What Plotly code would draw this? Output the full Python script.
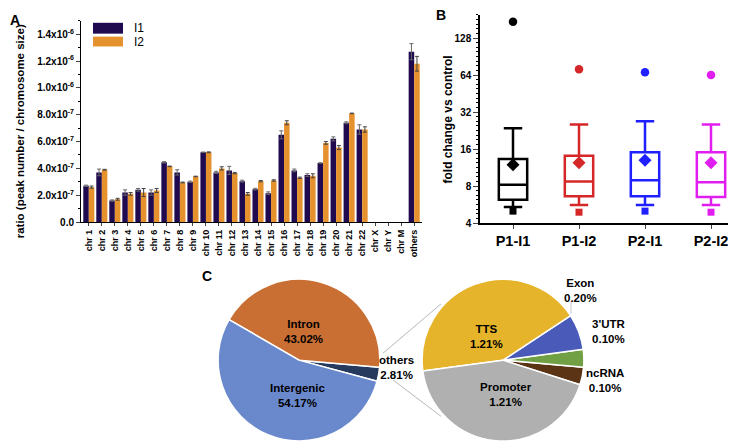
import plotly.graph_objects as go
import numpy as np

# ---------------- Data ----------------
chrom_labels = ["chr 1", "chr 2", "chr 3", "chr 4", "chr 5", "chr 6", "chr 7", "chr 8", "chr 9",
                "chr 10", "chr 11", "chr 12", "chr 13", "chr 14", "chr 15", "chr 16", "chr 17",
                "chr 18", "chr 19", "chr 20", "chr 21", "chr 22", "chr X", "chr Y", "chr M", "others"]
i1_ratio = [2.7e-7, 3.7e-7, 1.6e-7, 2.2e-7, 2.4e-7, 2.2e-7, 4.45e-7, 3.7e-7, 3.0e-7,
            5.2e-7, 3.7e-7, 3.85e-7, 3.05e-7, 2.45e-7, 2.15e-7, 6.5e-7, 3.85e-7,
            3.5e-7, 4.4e-7, 6.2e-7, 7.4e-7, 6.9e-7, 0, 0, 0, 1.27e-6]
i2_ratio = [2.6e-7, 3.9e-7, 1.7e-7, 2.1e-7, 2.2e-7, 2.35e-7, 4.15e-7, 2.95e-7, 3.4e-7,
            5.2e-7, 4.0e-7, 3.65e-7, 2.1e-7, 3.05e-7, 3.1e-7, 7.4e-7, 3.3e-7,
            3.45e-7, 5.9e-7, 5.55e-7, 8.1e-7, 6.9e-7, 0, 0, 0, 1.18e-6]
i1_err = [0.05e-7, 0.25e-7, 0.05e-7, 0.2e-7, 0.1e-7, 0.2e-7, 0.05e-7, 0.2e-7, 0.05e-7,
          0.02e-7, 0.08e-7, 0.3e-7, 0.07e-7, 0.06e-7, 0.1e-7, 0.3e-7, 0.1e-7,
          0.1e-7, 0.02e-7, 0.15e-7, 0.07e-7, 0.35e-7, "NaN", "NaN", "NaN", 0.6e-7]
i2_err = [0.08e-7, 0.03e-7, 0.07e-7, 0.1e-7, 0.3e-7, 0.15e-7, 0.02e-7, 0.03e-7, 0.02e-7,
          0.03e-7, 0.12e-7, 0.05e-7, 0.1e-7, 0.05e-7, 0.05e-7, 0.15e-7, 0.05e-7,
          0.15e-7, 0.1e-7, 0.15e-7, 0.02e-7, 0.2e-7, "NaN", "NaN", "NaN", 0.55e-7]
ratio_ticks = [0, 2e-7, 4e-7, 6e-7, 8e-7, 1e-6, 1.2e-6, 1.4e-6]
ratio_ticktext = ["0.0", "2.0x10<sup>-7</sup>", "4.0x10<sup>-7</sup>", "6.0x10<sup>-7</sup>",
                  "8.0x10<sup>-7</sup>", "1.0x10<sup>-6</sup>", "1.2x10<sup>-6</sup>", "1.4x10<sup>-6</sup>"]

groups = ["P1-I1", "P1-I2", "P2-I1", "P2-I2"]
group_colors = ["#000000", "#d62728", "#1f1fff", "#e11ef0"]
q1 = [6.2, 6.6, 6.6, 6.5]
median = [8.2, 8.7, 8.9, 8.6]
q3 = [13.3, 14.1, 15.1, 15.1]
lower_whisker = [5.4, 5.6, 5.6, 5.6]
upper_whisker = [23.6, 25.4, 26.9, 25.4]
mean_val = [11.9, 12.4, 13.0, 12.4]
max_val = [174, 71.5, 67.6, 64]
min_val = [5.0, 4.9, 5.0, 4.9]
fold_ticks = [4, 8, 16, 32, 64, 128]

main_labels = ["others", "Intron", "Intergenic"]
main_values = [2.81, 43.02, 54.17]
main_colors = ["#263a5e", "#c96f33", "#6a89cc"]
sub_labels = ["ncRNA", "3'UTR", "Exon", "TTS", "Promoter"]
sub_values = [0.10, 0.10, 0.20, 1.21, 1.21]
sub_colors = ["#5a3414", "#70a043", "#4a5ab8", "#e6b42a", "#b0b0b0"]

W, H = 736, 441
FONT = "Arial, Liberation Sans, sans-serif"

def px(x):
    return x / W

def py(y):
    return 1 - y / H

fig = go.Figure()

# ---------------- Panel A ----------------
fig.add_trace(go.Bar(x=chrom_labels, y=i1_ratio, name="I1", marker_color="#1f0a4f",
                     marker_line_width=0,
                     error_y=dict(type="data", array=i1_err, color="#666666", thickness=1, width=2),
                     xaxis="x", yaxis="y", showlegend=False))
fig.add_trace(go.Bar(x=chrom_labels, y=i2_ratio, name="I2", marker_color="#e5922e",
                     marker_line_width=0,
                     error_y=dict(type="data", array=i2_err, color="#444444", thickness=1, width=2),
                     xaxis="x", yaxis="y", showlegend=False))

# ---------------- Panel B ----------------
for i, g in enumerate(groups):
    c = group_colors[i]
    fig.add_trace(go.Box(x=[g], q1=[q1[i]], median=[median[i]], q3=[q3[i]],
                         lowerfence=[lower_whisker[i]], upperfence=[upper_whisker[i]],
                         boxpoints=False, fillcolor="rgba(255,255,255,0)",
                         line=dict(color=c, width=2.5), whiskerwidth=0.65, width=0.43,
                         xaxis="x2", yaxis="y2", showlegend=False, name=g))
    fig.add_trace(go.Scatter(x=[g], y=[mean_val[i]], mode="markers",
                             marker=dict(symbol="diamond", size=10, color=c),
                             xaxis="x2", yaxis="y2", showlegend=False))
    fig.add_trace(go.Scatter(x=[g], y=[max_val[i]], mode="markers",
                             marker=dict(symbol="circle", size=8.5, color=c),
                             xaxis="x2", yaxis="y2", showlegend=False))
    fig.add_trace(go.Scatter(x=[g], y=[min_val[i]], mode="markers",
                             marker=dict(symbol="square", size=7, color=c),
                             xaxis="x2", yaxis="y2", showlegend=False))

# ---------------- Panel C ----------------
fig.add_trace(go.Pie(labels=main_labels, values=main_values, sort=False,
                     direction="counterclockwise", rotation=95,
                     marker=dict(colors=main_colors, line=dict(color="white", width=1.5)),
                     textinfo="none", showlegend=False,
                     domain=dict(x=[px(209), px(373)], y=[py(439), py(275)])))
fig.add_trace(go.Pie(labels=sub_labels, values=sub_values, sort=False,
                     direction="counterclockwise", rotation=95,
                     marker=dict(colors=sub_colors, line=dict(color="white", width=1.5)),
                     textinfo="none", showlegend=False,
                     domain=dict(x=[px(413), px(577)], y=[py(439), py(275)])))

minor_b = [4 * 2 ** (k / 8) for k in range(0, 46)]

fig.update_layout(
    width=W, height=H, margin=dict(l=0, r=0, t=0, b=0),
    paper_bgcolor="white", plot_bgcolor="white",
    font=dict(family=FONT, color="black"),
    barmode="group", bargap=0.15, bargroupgap=0,
    xaxis=dict(domain=[px(73), px(414)], range=[-0.6, 25.6], type="category",
               showline=True, linecolor="black", linewidth=1, ticks="outside", ticklen=3,
               tickangle=-90, tickfont=dict(size=9, weight="bold"), showgrid=False,
               anchor="y"),
    yaxis=dict(domain=[py(217), py(13)], range=[0, 1.5e-6], tickvals=ratio_ticks,
               ticktext=ratio_ticktext, showline=True, linecolor="black", linewidth=1,
               ticks="outside", ticklen=4, tickfont=dict(size=10, weight="bold"),
               showgrid=False, zeroline=False, anchor="x",
               minor=dict(tickvals=[1e-7, 3e-7, 5e-7, 7e-7, 9e-7, 1.1e-6, 1.3e-6, 1.5e-6],
                          ticks="outside", ticklen=2, tickcolor="black")),
    xaxis2=dict(domain=[px(472), 1.0], range=[-0.5, 3.5], type="category",
                showline=True, linecolor="black", linewidth=1.5, ticks="outside", ticklen=4,
                tickfont=dict(size=14.5, weight="bold"), showgrid=False, anchor="y2"),
    yaxis2=dict(domain=[py(218), py(7)], type="log", range=[np.log10(4), 2.296],
                tickvals=fold_ticks, ticktext=[str(t) for t in fold_ticks],
                showline=True, linecolor="black", linewidth=1.5, ticks="outside", ticklen=5,
                tickfont=dict(size=10, weight="bold"), showgrid=False, zeroline=False,
                anchor="x2",
                minor=dict(tickvals=minor_b, ticks="outside", ticklen=2, tickcolor="black")),
)

ann = []
def add_text(x, y, text, size=11.5, bold=True, angle=0, xanchor="center"):
    ann.append(dict(x=px(x), y=py(y), xref="paper", yref="paper", text=text, showarrow=False,
                    textangle=angle, xanchor=xanchor, yanchor="middle",
                    font=dict(size=size, weight="bold" if bold else "normal", family=FONT)))

add_text(7, 12, "A", size=14)
add_text(433, 7, "B", size=14)
add_text(199, 272, "C", size=14)
add_text(12, 125, "ratio (peak number / chromosome size)", size=11.5, angle=-90)
add_text(440, 113, "fold change vs control", size=12, angle=-90)
add_text(124, 20, "I1", size=12, bold=False, xanchor="left")
add_text(124, 34, "I2", size=12, bold=False, xanchor="left")

add_text(295, 328, "Intron<br>43.02%")
add_text(290, 393, "Intergenic<br>54.17%")
add_text(388, 364, "others<br>2.81%")
add_text(478, 333, "TTS<br>1.21%")
add_text(498, 392, "Promoter<br>1.21%")
add_text(572, 286, "Exon<br>0.20%")
add_text(600, 328, "3'UTR<br>0.10%")
add_text(597, 378, "ncRNA<br>0.10%")
fig.update_layout(annotations=ann)

shapes = [
    dict(type="rect", xref="paper", yref="paper", x0=px(85), x1=px(115), y0=py(26), y1=py(15),
         fillcolor="#1f0a4f", line=dict(width=0)),
    dict(type="rect", xref="paper", yref="paper", x0=px(85), x1=px(115), y0=py(39), y1=py(29),
         fillcolor="#e5922e", line=dict(width=0)),
    dict(type="line", xref="paper", yref="paper", x0=px(375), y0=py(350), x1=px(433), y1=py(300),
         line=dict(color="#b8b8b8", width=1)),
    dict(type="line", xref="paper", yref="paper", x0=px(385), y0=py(377), x1=px(433), y1=py(414),
         line=dict(color="#b8b8b8", width=1)),
    dict(type="line", xref="paper", yref="paper", x0=px(563), y0=py(297), x1=px(563), y1=py(310),
         line=dict(color="#c8c8c8", width=1)),
]
fig.update_layout(shapes=shapes)

fig.write_html("out.html")
